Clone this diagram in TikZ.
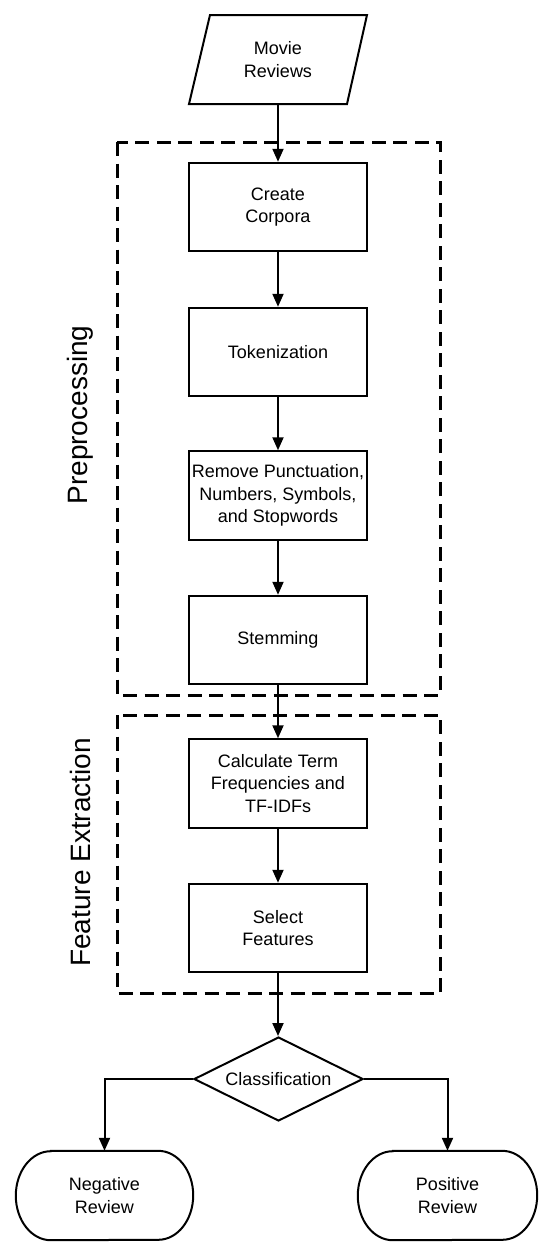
\documentclass[tikz,border=0pt]{standalone}
\usepackage{fontspec}
\setmainfont{Liberation Sans}
\usetikzlibrary{arrows.meta,shapes.geometric,calc}
\begin{document}
\begin{tikzpicture}[x=1pt,y=-1pt,
  every node/.style={font=\fontsize{18}{22.4}\selectfont, align=center, inner sep=0pt},
  procbox/.style={draw, line width=2pt, minimum width=178pt, minimum height=88.5pt},
  flowarrow/.style={line width=2pt, -{Triangle[length=13pt,width=11pt]}},
  groupbox/.style={line width=3pt, dash pattern=on 14pt off 7.5pt},
  grouplabel/.style={font=\fontsize{28}{32}\selectfont, rotate=90}]
\useasboundingbox (0,0) rectangle (551,1256);
% input
\node (mr) [minimum width=178pt, minimum height=89pt] at (278,59.5) {Movie\\Reviews};
\draw[line width=2pt, line join=miter] (210,15) -- (367,15) -- (347,104) -- (189,104) -- cycle;
% groups
\draw[groupbox] (117,142) rectangle (440,695);
\draw[groupbox] (117,715) rectangle (440,993);
\node[grouplabel] (lp) at (80,415) {Preprocessing};
\node[grouplabel] (lf) at (80,852.5) {Feature Extraction};
% process boxes
\node[procbox] (cc) at (278,207) {Create\\Corpora};
\node[procbox] (tk) at (278,352) {Tokenization};
\node[procbox] (rp) at (278,495.5) {Remove Punctuation,\\Numbers, Symbols,\\and Stopwords};
\node[procbox] (st) at (278,640) {Stemming};
\node[procbox] (tf) at (278,783.5) {Calculate Term\\Frequencies and\\TF-IDFs};
\node[procbox] (sf) at (278,928) {Select\\Features};
% decision
\node[draw, line width=2pt, diamond, aspect=2, minimum width=169pt, minimum height=84pt, inner sep=0pt] (cl) at (278.5,1079) {Classification};
% terminals
\node (nr) [minimum width=177pt, minimum height=89pt] at (104.5,1195.5) {Negative\\Review};
\node (pr) [minimum width=179pt, minimum height=89pt] at (447.5,1195.5) {Positive\\Review};
\foreach \t in {nr,pr}{
  \draw[line width=2pt] ($(\t.north west)+(35,0)$) -- ($(\t.north east)+(-35,0)$)
     arc[start angle=-90, end angle=90, x radius=35, y radius=44.5]
     -- ($(\t.south west)+(35,0)$)
     arc[start angle=90, end angle=270, x radius=35, y radius=44.5] -- cycle;
}
% connectors
\draw[flowarrow] (mr.south) -- (cc.north);
\draw[flowarrow] (cc.south) -- (tk.north);
\draw[flowarrow] (tk.south) -- (rp.north);
\draw[flowarrow] (rp.south) -- (st.north);
\draw[flowarrow] (st.south) -- (tf.north);
\draw[flowarrow] (tf.south) -- (sf.north);
\draw[flowarrow] (sf.south) -- (sf.south |- cl.north);
\draw[flowarrow] (cl.west) -| (nr.north);
\draw[flowarrow] (cl.east) -| (pr.north);
\end{tikzpicture}
\end{document}
